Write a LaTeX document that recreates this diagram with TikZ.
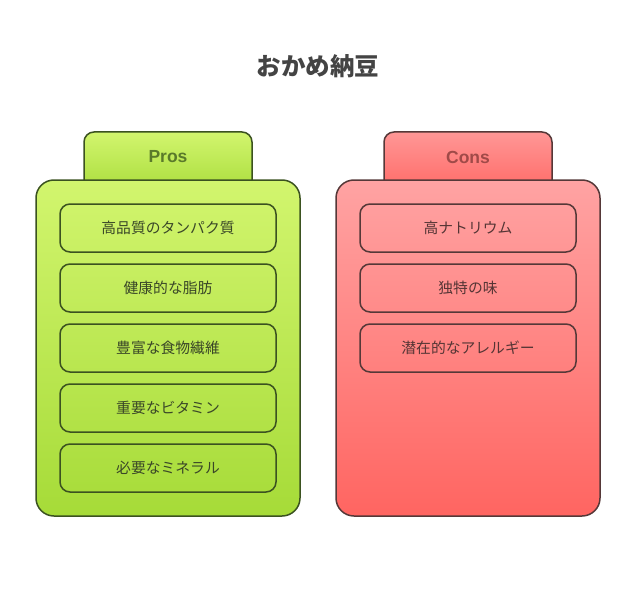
\documentclass[tikz,border=0pt]{standalone}
\usepackage{fontspec}
\newfontfamily\cjk{Noto Sans CJK JP}
\newfontfamily\latb{Liberation Sans}
\definecolor{gtop}{HTML}{D2F56E}
\definecolor{gbot}{HTML}{A6DB38}
\definecolor{gstroke}{HTML}{3B5220}
\definecolor{gtext}{HTML}{3A4728}
\definecolor{gtitle}{HTML}{5A7A2A}
\definecolor{rtop}{HTML}{FFA3A3}
\definecolor{rbot}{HTML}{FF6561}
\definecolor{rstroke}{HTML}{553838}
\definecolor{rtext}{HTML}{553535}
\definecolor{rtitle}{HTML}{A04A48}
\definecolor{titlec}{HTML}{444444}
\tikzset{
  gpanel/.style={draw=gstroke, line width=1.5pt, top color=gtop, bottom color=gbot, rounded corners=18pt},
  gtab/.style={draw=gstroke, line width=1.5pt, top color=gtop, bottom color=gbot!90!gtop, rounded corners=10pt},
  gitem/.style={draw=gstroke, line width=1.5pt, rounded corners=10pt, minimum width=216pt, minimum height=48pt, inner sep=0pt, text=gtext, font=\cjk\fontsize{14.8}{16}\selectfont},
  rpanel/.style={draw=rstroke, line width=1.5pt, top color=rtop, bottom color=rbot, rounded corners=18pt},
  rtab/.style={draw=rstroke, line width=1.5pt, top color=rtop!80!rbot, bottom color=rbot!90!rtop, rounded corners=10pt},
  ritem/.style={draw=rstroke, line width=1.5pt, rounded corners=10pt, minimum width=216pt, minimum height=48pt, inner sep=0pt, text=rtext, font=\cjk\fontsize{14.8}{16}\selectfont},
  tabtext/.style={font=\latb\bfseries\fontsize{17.5}{20}\selectfont, inner sep=0pt},
}
\begin{document}
\begin{tikzpicture}[x=1pt,y=-1pt]
\useasboundingbox (0,0) rectangle (636,588);
\fill[white] (0,0) rectangle (636,588);
\node[font=\cjk\bfseries\fontsize{24.5}{28}\selectfont, text=titlec] (title) at (318,66) {おかめ納豆};
% Pros
\path[gtab] (84,190) -- (84,132) -- (252,132) -- (252,190);
\path[gpanel] (36,180) rectangle (300,516);
\node[tabtext, text=gtitle] (pros) at (168,157) {Pros};
\node[gitem] (p1) at (168,228) {高品質のタンパク質};
\node[gitem] (p2) at (168,288) {健康的な脂肪};
\node[gitem] (p3) at (168,348) {豊富な食物繊維};
\node[gitem] (p4) at (168,408) {重要なビタミン};
\node[gitem] (p5) at (168,468) {必要なミネラル};
% Cons
\path[rtab] (384,190) -- (384,132) -- (552,132) -- (552,190);
\path[rpanel] (336,180) rectangle (600,516);
\node[tabtext, text=rtitle] (cons) at (468,157) {Cons};
\node[ritem] (c1) at (468,228) {高ナトリウム};
\node[ritem] (c2) at (468,288) {独特の味};
\node[ritem] (c3) at (468,348) {潜在的なアレルギー};
\end{tikzpicture}
\end{document}
